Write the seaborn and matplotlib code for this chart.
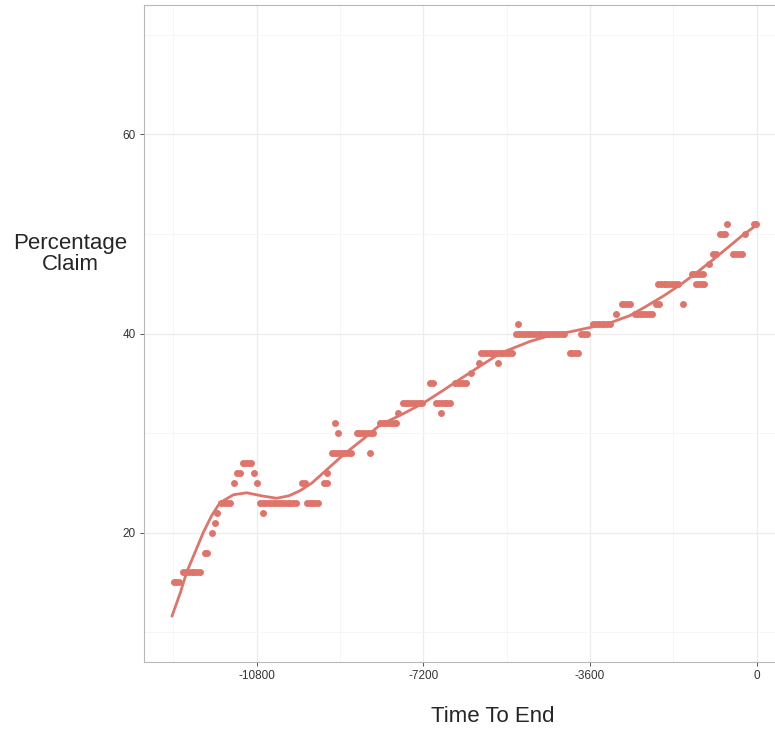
import numpy as np
import pandas as pd
import matplotlib
matplotlib.use("Agg")
import matplotlib.pyplot as plt
import seaborn as sns

# runs of constant claim: observation every 60 s between start and end
run_start = [-12590, -12380, -11920, -11760, -11700, -11650, -11560, -11290, -11220, -11090,
             -10850, -10800, -10730, -10670, -9820, -9710, -9340, -9270, -9180, -9110,
             -9040, -8640, -8350, -8140, -7740, -7640, -7060, -6920, -6810, -6520,
             -6160, -6000, -5950, -5590, -5190, -5150, -4040, -3790, -3530, -3030,
             -2920, -2630, -2170, -2130, -1590, -1410, -1310, -1035, -940, -800,
             -650, -510, -260, -70]
run_end = [-12420, -11970, -11810, -11760, -11700, -11650, -11360, -11290, -11160, -10910,
           -10850, -10800, -9930, -10670, -9760, -9430, -9280, -9270, -8750, -9110,
           -9040, -8240, -8350, -7780, -7740, -7170, -6980, -6590, -6810, -6270,
           -6120, -6000, -5290, -5550, -4140, -5150, -3850, -3640, -3140, -3030,
           -2700, -2270, -2060, -1660, -1590, -1120, -1120, -1035, -880, -650,
           -650, -330, -210, 0]
run_claim = [15, 16, 18, 20, 21, 22, 23, 25, 26, 27,
             26, 25, 23, 22, 25, 23, 25, 26, 28, 31,
             30, 30, 28, 31, 32, 33, 35, 33, 32, 35,
             36, 37, 38, 37, 40, 41, 38, 40, 41, 42,
             43, 42, 43, 45, 43, 46, 45, 47, 48, 50,
             51, 48, 50, 51]

# smoothed trend
smooth_time = [-12627, -12450, -12310, -12130, -11951, -11770, -11591, -11300, -11015, -10700,
               -10367, -10100, -9864, -9600, -9361, -8929, -8497, -8137, -7650, -7202,
               -6800, -6411, -5950, -5547, -4900, -4468, -4000, -3605, -3150, -2741,
               -2400, -2022, -1650, -1302, -950, -583, -300, 0]
smooth_claim = [11.6, 13.9, 16.0, 18.0, 20.0, 21.7, 23.0, 23.8, 24.0, 23.7,
                23.45, 23.7, 24.2, 25.0, 26.0, 27.8, 29.4, 30.8, 31.9, 33.0,
                34.2, 35.4, 36.8, 38.0, 39.2, 39.8, 40.2, 40.6, 41.1, 41.8,
                42.7, 43.75, 44.9, 46.1, 47.4, 48.8, 49.9, 50.9]

x_ticks = [-10800, -7200, -3600, 0]
y_ticks = [20, 40, 60]

times, claims = [], []
for s, e, c in zip(run_start, run_end, run_claim):
    t = np.arange(s, e + 1, 60) if e > s else np.array([s])
    times.extend(t)
    claims.extend([c] * len(t))
df = pd.DataFrame({"time": times, "claim": claims})
smooth = pd.DataFrame({"time": smooth_time, "claim": smooth_claim})

sns.set_style("white")
plt.rcParams["font.family"] = ["Liberation Sans", "DejaVu Sans"]

col = "#DF746B"
fig = plt.figure(figsize=(7.75, 7.3), dpi=100)
ax = fig.add_axes([144 / 775, 68 / 730, 642 / 775, 657 / 730])

sns.scatterplot(data=df, x="time", y="claim", color=col, s=25, linewidth=0, ax=ax, zorder=3)
sns.lineplot(data=smooth, x="time", y="claim", color=col, linewidth=2.0, ax=ax, zorder=4)

ax.set_xlim(-13230, 630)
ax.set_ylim(7, 73)
ax.set_xticks(x_ticks)
ax.set_xticklabels([str(v) for v in x_ticks])
ax.set_yticks(y_ticks)
ax.set_xticks([-12600, -9000, -5400, -1800], minor=True)
ax.set_yticks([10, 30, 50, 70], minor=True)
ax.grid(which="major", color="#ececec", linewidth=0.9, zorder=0)
ax.grid(which="minor", color="#f5f5f5", linewidth=0.6, zorder=0)
ax.set_axisbelow(True)
ax.tick_params(which="major", length=2.8, width=0.7, color="#555555",
               labelsize=8.5, labelcolor="#333333", pad=3, bottom=True, left=True)
ax.tick_params(which="minor", length=0)
for sp in ax.spines.values():
    sp.set_color("#b8b8b8")
    sp.set_linewidth(0.8)

ax.set_xlabel("Time To End", fontsize=16, va="top")
ax.xaxis.set_label_coords((493 - 144) / 642, -44 / 657)
ax.set_ylabel("Percentage\nClaim", fontsize=16, rotation=0, ha="center", va="center",
              linespacing=0.95)
ax.yaxis.set_label_coords((70 - 144) / 642, (662 - 254) / 657)

fig.savefig("out.png", dpi=100)
